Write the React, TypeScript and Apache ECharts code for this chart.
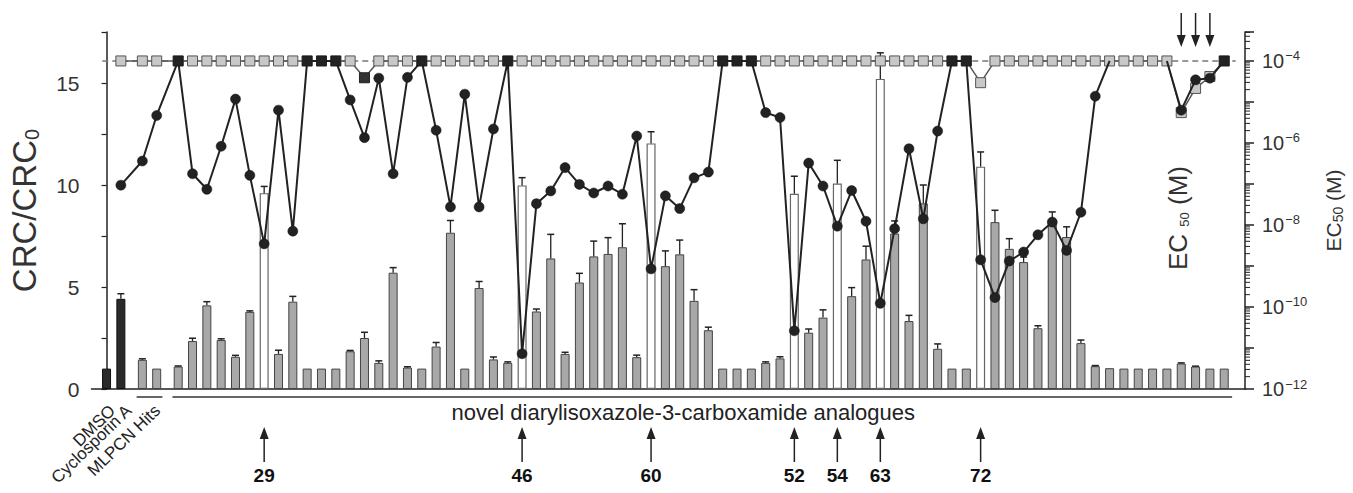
import React, { useEffect, useRef } from 'react';
import * as echarts from 'echarts';

const FONT = "'Liberation Sans', Arial, Helvetica, sans-serif";

// Groups of bars along the x axis
const groupLabels = ['DMSO', 'Cyclosporin A', 'MLPCN Hits', 'novel diarylisoxazole-3-carboxamide analogues'];
const groupSizes = [2, 2, 74];

// CRC/CRC0 ratio (bars), in bar order: DMSO, Cyclosporin A, 2 MLPCN hits, 74 analogues
const crcRatio = [
  1.0, 4.42,
  1.43, 1.0,
  1.10, 2.35, 4.10, 2.40, 1.58, 3.78, 9.60, 1.72, 4.28, 1.00,
  1.00, 1.00, 1.85, 2.50, 1.28, 5.70, 1.05, 1.00, 2.08, 7.66,
  1.00, 4.95, 1.45, 1.28, 9.98, 3.80, 6.40, 1.72, 5.22, 6.50,
  6.62, 6.95, 1.56, 12.04, 6.02, 6.60, 4.32, 2.88, 1.00, 1.00,
  1.00, 1.28, 1.50, 9.57, 2.76, 3.50, 10.07, 4.55, 6.35, 15.20,
  7.62, 3.33, 9.10, 1.97, 1.00, 1.00, 10.90, 8.18, 6.87, 6.22,
  2.98, 8.18, 7.45, 2.25, 1.12, 1.02, 1.00, 1.00, 1.00, 1.00,
  1.25, 1.10, 1.00, 1.00,
];
const crcErr = [
  0, 0.25,
  0.05, 0,
  0.03, 0.14, 0.18, 0.06, 0.07, 0.05, 0.33, 0.18, 0.26, 0,
  0, 0, 0.04, 0.28, 0.10, 0.25, 0.04, 0, 0.20, 0.60,
  0, 0.32, 0.12, 0.05, 0.38, 0.12, 1.18, 0.08, 0.45, 0.75,
  0.80, 1.15, 0.10, 0.57, 0.75, 0.70, 0.55, 0.15, 0, 0,
  0, 0.05, 0.08, 0.86, 0.18, 0.38, 1.14, 0.42, 0.65, 1.28,
  0.62, 0.28, 0.90, 0.24, 0, 0, 0.72, 0.58, 0.50, 0.25,
  0.12, 0.50, 0.50, 0.15, 0.03, 0, 0, 0, 0, 0,
  0.03, 0.02, 0, 0,
];
// log10(EC50 / M), black circles (null = not measured); -4 = inactive (square)
const ec50Log = [
  null, -7.03,
  -6.44, -5.33,
  -4, -6.75, -7.13, -6.08, -4.93, -6.79, -8.46, -5.20, -8.15, -4,
  -4, -4, -4.95, -5.87, -4.42, -6.75, -4.40, -4, -5.69, -7.56,
  -4.81, -7.56, -5.66, -4, -11.14, -7.48, -7.17, -6.60, -7.01, -7.22,
  -7.05, -7.25, -5.83, -9.07, -7.29, -7.60, -6.85, -6.71, -4, -4,
  -4, -5.26, -5.38, -10.58, -6.49, -7.05, -8.03, -7.16, -7.91, -9.91,
  -8.09, -6.14, -7.85, -5.71, -4, -4, -8.85, -9.77, -8.88, -8.66,
  -8.24, -7.93, -8.62, -7.69, -4.86, -4, -4, -4, -4, -4,
  -5.20, -4.46, -4.42, -4,
];
// log10(EC50 / M), grey squares
const ec50GreyLog = [
  null, -4,
  -4, -4,
  -4, -4, -4, -4, -4, -4, -4, -4, -4, -4,
  -4, -4, -4, -4.41, -4, -4, -4, -4, -4, -4,
  -4, -4, -4, -4, -4, -4, -4, -4, -4, -4,
  -4, -4, -4, -4, -4, -4, -4, -4, -4, -4,
  -4, -4, -4, -4, -4, -4, -4, -4, -4, -4,
  -4, -4, -4, -4, -4, -4, -4.53, -4, -4, -4,
  -4, -4, -4, -4, -4, -4, -4, -4, -4, -4,
  -5.26, -4.67, -4.38, -4,
];
// analogue positions (within analogue group) highlighted with arrows and compound numbers
const leadAnalogues = [6, 24, 33, 43, 46, 49, 56];
const leadLabels = ['29', '46', '60', '52', '54', '63', '72'];
const topArrowAnalogues = [70, 71, 72];
// black points lying under the grey squares (no visible marker)
const hiddenBlackMarkers = [65, 66, 67, 68, 69];
const darkGreyMarkers = [13];

const leftTicks = { min: 0, max: 17.5, interval: 2.5 };
const rightTicks = { min: -12, max: -3.294, interval: 1 };

export default function App() {
  const ref = useRef<HTMLDivElement>(null);

  useEffect(() => {
    document.body.style.margin = '0';
    if (!ref.current) return;
    const chart = echarts.init(ref.current, null, { renderer: 'svg' });

    const gap = 0.5;
    const xPos: number[] = [];
    let cur = 0;
    groupSizes.forEach((n) => {
      for (let j = 0; j < n; j++) { xPos.push(cur); cur += 1; }
      cur += gap;
    });
    const aStart = groupSizes[0] + groupSizes[1];
    const xMin = -1.05;
    const xMax = 79.45;

    const barData = crcRatio.map((v, i) => {
      let style: any;
      if (i < groupSizes[0]) style = { color: '#2a2a2a', borderColor: '#111', borderWidth: 1 };
      else if (i >= aStart && leadAnalogues.includes(i - aStart)) style = { color: '#ffffff', borderColor: '#666', borderWidth: 1.2 };
      else style = { color: '#a8a8a8', borderColor: '#444', borderWidth: 1 };
      return { value: [xPos[i], v], itemStyle: style };
    });
    const errData = crcRatio
      .map((v, i) => [xPos[i], v, crcErr[i]])
      .filter((d) => d[2] > 0);

    const isHidden = (i: number) => i - aStart >= 0 && hiddenBlackMarkers.includes(i - aStart);
    const blackData: any[] = [];
    ec50Log.forEach((e, i) => {
      if (e == null) return;
      if (isHidden(i)) {
        // break the black line where it runs underneath the grey squares
        const inner = isHidden(i - 1) && isHidden(i + 1);
        blackData.push({ value: [xPos[i], inner ? '-' : e], symbol: 'none' });
        return;
      }
      const symbol = e === -4 ? 'rect' : 'circle';
      blackData.push({ value: [xPos[i], e], symbol, symbolSize: 10 });
    });
    const greyData: any[] = [];
    ec50GreyLog.forEach((e, i) => {
      if (e == null) return;
      const a = i - aStart;
      const item: any = { value: [xPos[i], e] };
      if (a >= 0 && darkGreyMarkers.includes(a)) item.itemStyle = { color: '#333', borderColor: '#222' };
      greyData.push(item);
    });

    const minorTicks: number[][] = [];
    for (let n = rightTicks.min; n < Math.ceil(rightTicks.max); n++) {
      for (let k = 2; k <= 9; k++) {
        const v = n + Math.log10(k);
        if (v <= rightTicks.max) minorTicks.push([xMax, v]);
      }
    }

    const option: any = {
      animation: false,
      grid: { left: 79, right: 90, top: 32, bottom: 104 },
      xAxis: {
        type: 'value', min: xMin, max: xMax,
        axisLine: { show: true, onZero: false, lineStyle: { color: '#222', width: 1.5 } },
        axisTick: { show: false }, axisLabel: { show: false }, splitLine: { show: false },
      },
      yAxis: [
        {
          type: 'value', min: leftTicks.min, max: leftTicks.max, interval: leftTicks.interval,
          position: 'left',
          name: 'CRC/CRC{sub|0}', nameLocation: 'middle', nameRotate: 90, nameGap: 50,
          nameTextStyle: {
            fontFamily: FONT, fontSize: 33, color: '#333',
            rich: { sub: { fontFamily: FONT, fontSize: 20, color: '#333', verticalAlign: 'bottom', padding: [14, 0, 0, 0] } },
          },
          axisLine: { show: true, lineStyle: { color: '#222', width: 1.5 } },
          axisTick: { show: true, length: 5, lineStyle: { color: '#222', width: 1.2 } },
          axisLabel: {
            fontFamily: FONT, fontSize: 21, color: '#333', margin: 12,
            formatter: (v: number) => (v % 5 === 0 ? String(v) : ''),
          },
          splitLine: { show: false },
        },
        {
          type: 'value', min: rightTicks.min, max: rightTicks.max, interval: rightTicks.interval,
          position: 'right',
          name: 'EC{sub|50} (M)', nameLocation: 'middle', nameRotate: 90, nameGap: 76,
          nameTextStyle: {
            fontFamily: FONT, fontSize: 21, color: '#333',
            rich: { sub: { fontFamily: FONT, fontSize: 14, color: '#333', verticalAlign: 'bottom', padding: [10, 0, 0, 0] } },
          },
          axisLine: { show: true, lineStyle: { color: '#222', width: 1.5 } },
          axisTick: { show: true, length: 9, lineStyle: { color: '#222', width: 1.5 } },
          axisLabel: {
            fontFamily: FONT, fontSize: 20, color: '#333', margin: 17,
            formatter: (v: number) => {
              const r = Math.round(v);
              if (Math.abs(v - r) > 1e-6 || r % 2 !== 0) return '';
              return '10{sup|\u2212' + Math.abs(r) + '}';
            },
            rich: { sup: { fontFamily: FONT, fontSize: 13, color: '#333', verticalAlign: 'top', padding: [0, 0, 10, 1] } },
          },
          splitLine: { show: false },
        },
      ],
      series: [
        {
          type: 'bar', xAxisIndex: 0, yAxisIndex: 0, barWidth: 9, data: barData, z: 2,
        },
        {
          type: 'custom', xAxisIndex: 0, yAxisIndex: 0, z: 3, silent: true,
          data: errData,
          encode: { x: 0, y: 1 },
          renderItem: (params: any, api: any) => {
            const x = api.value(0), v = api.value(1), e = api.value(2);
            const b = api.coord([x, v]);
            const t = api.coord([x, v + e]);
            return {
              type: 'group',
              children: [
                { type: 'line', shape: { x1: b[0], y1: b[1], x2: t[0], y2: t[1] }, style: { stroke: '#222', lineWidth: 1.3 } },
                { type: 'line', shape: { x1: t[0] - 3.5, y1: t[1], x2: t[0] + 3.5, y2: t[1] }, style: { stroke: '#222', lineWidth: 1.5 } },
              ],
            };
          },
        },
        {
          type: 'custom', xAxisIndex: 0, yAxisIndex: 1, z: 3, silent: true, clip: false,
          data: minorTicks,
          encode: { x: 0, y: 1 },
          renderItem: (params: any, api: any) => {
            const p = api.coord([api.value(0), api.value(1)]);
            return { type: 'line', shape: { x1: p[0], y1: p[1], x2: p[0] + 5, y2: p[1] }, style: { stroke: '#222', lineWidth: 1 } };
          },
        },
        {
          type: 'line', xAxisIndex: 0, yAxisIndex: 1, z: 3, silent: true, symbol: 'none',
          data: [[-0.3, -4], [78.8, -4]],
          lineStyle: { color: '#777', width: 1.5, type: [6, 4] },
        },
        {
          type: 'line', xAxisIndex: 0, yAxisIndex: 1, z: 4,
          data: greyData, symbol: 'rect', symbolSize: 10,
          itemStyle: { color: '#c8c8c8', borderColor: '#555', borderWidth: 1 },
          lineStyle: { color: '#555', width: 1.5 },
        },
        {
          type: 'line', xAxisIndex: 0, yAxisIndex: 1, z: 5,
          data: blackData, connectNulls: false,
          itemStyle: { color: '#222', borderColor: '#111', borderWidth: 0.5 },
          lineStyle: { color: '#222', width: 2 },
        },
      ],
    };
    chart.setOption(option);

    const pxX = (x: number) => chart.convertToPixel({ xAxisIndex: 0 }, x) as number;
    const baseY = chart.convertToPixel({ yAxisIndex: 0 }, 0) as number;
    const g: any[] = [];
    const ink = '#222';

    // group underlines
    const ulY = baseY + 8;
    g.push({ type: 'line', shape: { x1: pxX(xPos[2] - 0.4), y1: ulY, x2: pxX(xPos[3] + 0.4), y2: ulY }, style: { stroke: '#333', lineWidth: 1.5 } });
    g.push({ type: 'line', shape: { x1: pxX(xPos[aStart] - 0.4), y1: ulY, x2: pxX(xPos[xPos.length - 1] + 0.55), y2: ulY }, style: { stroke: '#333', lineWidth: 1.5 } });

    // rotated group labels
    const rotLabels = [
      { text: groupLabels[0], x: pxX(xPos[0]) + 6 },
      { text: groupLabels[1], x: pxX(xPos[1]) + 8 },
      { text: groupLabels[2], x: pxX((xPos[2] + xPos[3]) / 2) + 8 },
    ];
    rotLabels.forEach((l) => {
      g.push({
        type: 'text', x: l.x, y: baseY + 19, rotation: (44 * Math.PI) / 180,
        style: { text: l.text, align: 'right', verticalAlign: 'middle', font: `17px ${FONT}`, fill: '#222' },
      });
    });

    // analogues label
    g.push({
      type: 'text', x: pxX(xPos[aStart + 35] + 0.25), y: baseY + 23,
      style: { text: groupLabels[3], align: 'center', verticalAlign: 'middle', font: `22px ${FONT}`, fill: '#222' },
    });

    // lead compound arrows
    const tipY = baseY + 38;
    const tailY = baseY + 73;
    leadAnalogues.forEach((a, k) => {
      const x = pxX(xPos[aStart + a]);
      g.push({ type: 'line', shape: { x1: x, y1: tipY + 8, x2: x, y2: tailY }, style: { stroke: ink, lineWidth: 1.5 } });
      g.push({ type: 'polygon', shape: { points: [[x - 4.5, tipY + 12], [x + 4.5, tipY + 12], [x, tipY]] }, style: { fill: ink } });
      g.push({
        type: 'text', x, y: tailY + 13,
        style: { text: leadLabels[k], align: 'center', verticalAlign: 'middle', font: `bold 19px ${FONT}`, fill: '#111' },
      });
    });

    // top arrows
    topArrowAnalogues.forEach((a) => {
      const x = pxX(xPos[aStart + a]);
      g.push({ type: 'line', shape: { x1: x, y1: 13, x2: x, y2: 38 }, style: { stroke: ink, lineWidth: 1.5 } });
      g.push({ type: 'polygon', shape: { points: [[x - 4.5, 35], [x + 4.5, 35], [x, 47]] }, style: { fill: ink } });
    });

    // inner EC50 label
    g.push({
      type: 'text', x: 1178, y: 218, rotation: Math.PI / 2,
      style: {
        text: 'EC {s|50} (M)', align: 'center', verticalAlign: 'middle',
        font: `26px ${FONT}`, fill: '#333',
        rich: { s: { font: `13px ${FONT}`, fill: '#333', verticalAlign: 'bottom' } },
      },
    });

    chart.setOption({ graphic: g });
    return () => chart.dispose();
  }, []);

  return <div ref={ref} style={{ width: 1353, height: 493 }} />;
}
